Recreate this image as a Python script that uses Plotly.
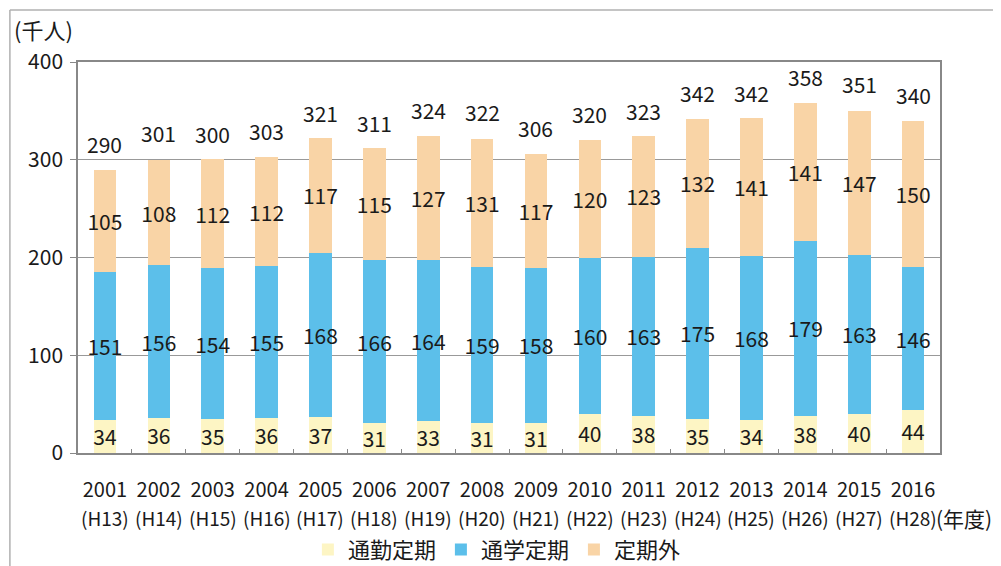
import plotly.graph_objects as go

years = ["2001", "2002", "2003", "2004", "2005", "2006", "2007", "2008",
         "2009", "2010", "2011", "2012", "2013", "2014", "2015", "2016"]
heisei = ["(H13)", "(H14)", "(H15)", "(H16)", "(H17)", "(H18)", "(H19)", "(H20)",
          "(H21)", "(H22)", "(H23)", "(H24)", "(H25)", "(H26)", "(H27)", "(H28)"]
commute = [34, 36, 35, 36, 37, 31, 33, 31, 31, 40, 38, 35, 34, 38, 40, 44]
school = [151, 156, 154, 155, 168, 166, 164, 159, 158, 160, 163, 175, 168, 179, 163, 146]
other = [105, 108, 112, 112, 117, 115, 127, 131, 117, 120, 123, 132, 141, 141, 147, 150]
totals = [290, 301, 300, 303, 321, 311, 324, 322, 306, 320, 323, 342, 342, 358, 351, 340]

names = ["通勤定期", "通学定期", "定期外"]
colors = ["#FDF5C4", "#5CBFEA", "#F9D4A6"]

FONT = "Noto Sans CJK JP"
TXT = "#1a1a1a"

fig = go.Figure()
for name, vals, col in zip(names, [commute, school, other], colors):
    fig.add_trace(go.Bar(
        x=years, y=vals, name=name, marker=dict(color=col, line=dict(width=0)),
        text=[str(v) for v in vals], textposition="inside",
        insidetextanchor="middle", textangle=0,
        textfont=dict(family=FONT, size=21, color=TXT),
        cliponaxis=False,
    ))

# totals above each bar (category serial index i on the category axis)
for i, t in enumerate(totals):
    fig.add_annotation(x=i, y=t, text=str(t), showarrow=False,
                       yanchor="bottom", yshift=9,
                       font=dict(family=FONT, size=21, color=TXT))

# second line of the category labels: Heisei era years
for i, h in enumerate(heisei):
    fig.add_annotation(x=i, xref="x", yref="paper", y=-0.166, text=h,
                       showarrow=False, yanchor="middle",
                       font=dict(family=FONT, size=19, color=TXT))

fig.add_annotation(xref="paper", yref="paper", x=-0.0035, y=1.085,
                   xanchor="right", yanchor="middle", text="(千人)", showarrow=False,
                   font=dict(family=FONT, size=22, color=TXT))
fig.add_annotation(xref="paper", yref="paper", x=0.9935, y=-0.166,
                   xanchor="left", yanchor="middle", text="(年度)", showarrow=False,
                   font=dict(family=FONT, size=21, color=TXT))

# faint frame of the scanned page (top and left edges)
fig.add_shape(type="line", xref="paper", yref="paper", x0=-0.079, x1=1.2,
              y0=1.133, y1=1.133, line=dict(color="#b0b0b0", width=1.5), layer="below")
fig.add_shape(type="line", xref="paper", yref="paper", x0=-0.079, x1=-0.079,
              y0=1.133, y1=-0.35, line=dict(color="#b0b0b0", width=1.5), layer="below")

fig.update_layout(
    width=993, height=558,
    margin=dict(l=70, r=61, t=54, b=113),
    paper_bgcolor="white", plot_bgcolor="white",
    barmode="stack", bargap=0.58,
    uniformtext=dict(mode="show", minsize=21),
    showlegend=True,
    legend=dict(orientation="h", xref="container", yref="container",
                x=0.302, xanchor="left", y=0.029, yanchor="middle",
                font=dict(family=FONT, size=22, color=TXT), traceorder="normal"),
    font=dict(family=FONT, color=TXT),
)
fig.update_xaxes(
    type="category", automargin=False, tickangle=0,
    tickmode="array", tickvals=years, ticktext=years,
    tickfont=dict(family=FONT, size=20, color=TXT),
    tickson="boundaries", ticks="inside", ticklen=4, tickcolor="#888",
    showline=True, linecolor="#888", linewidth=1.5, mirror=True,
    ticklabelstandoff=18,
)
fig.update_yaxes(
    automargin=False,
    range=[0, 400], tickvals=[0, 100, 200, 300, 400],
    tickfont=dict(family=FONT, size=21, color=TXT),
    ticks="outside", ticklen=6, tickcolor="#888",
    ticklabelstandoff=3,
    showgrid=True, gridcolor="#999", gridwidth=1,
    showline=True, linecolor="#888", linewidth=1.5, mirror=True,
    zeroline=False,
)

fig.write_html("out.html")
